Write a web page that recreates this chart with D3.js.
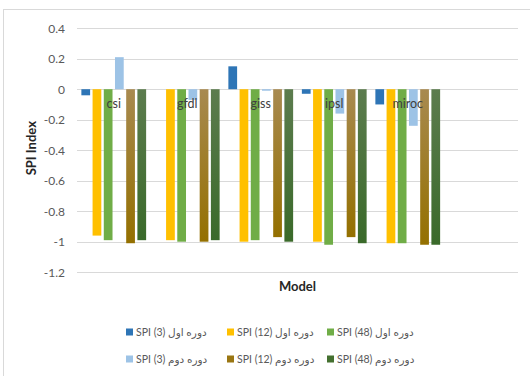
<!DOCTYPE html>
<html>
<head>
<meta charset="utf-8">
<script src="https://cdn.jsdelivr.net/npm/d3@7"></script>
<style>
  html, body { margin: 0; padding: 0; background: #fff; }
  svg { display: block; font-family: Lato, "DejaVu Sans", sans-serif; }
</style>
</head>
<body>
<svg id="chart" width="530" height="376"></svg>
<script>
// Climate models on the category axis (the last slot is an empty category)
const models = ["csi", "gfdl", "giss", "ipsl", "miroc", ""];

// Series labels (first period / second period, SPI time scales)
const seriesNames = [
  "SPI (3) دوره اول",
  "SPI (12) دوره اول",
  "SPI (48) دوره اول",
  "SPI (3) دوره دوم",
  "SPI (12) دوره دوم",
  "SPI (48) دوره دوم"
];

// SPI values per model for each series
const spi3First   = [-0.04,  0.00,  0.15, -0.03, -0.10];
const spi12First  = [-0.96, -0.99, -1.00, -1.00, -1.01];
const spi48First  = [-0.99, -1.00, -0.99, -1.02, -1.01];
const spi3Second  = [ 0.21, -0.07, -0.01, -0.16, -0.24];
const spi12Second = [-1.01, -1.00, -0.97, -0.97, -1.02];
const spi48Second = [-0.99, -0.99, -1.00, -1.01, -1.02];

const yTicks = [0.4, 0.2, 0, -0.2, -0.4, -0.6, -0.8, -1, -1.2];
const tickLabels = ["0.4", "0.2", "0", "-0.2", "-0.4", "-0.6", "-0.8", "-1", "-1.2"];

const seriesValues = [spi3First, spi12First, spi48First, spi3Second, spi12Second, spi48Second];
const colors = ["#2e75b6", "#ffc000", "#70ad47", "#9dc3e6", "url(#gBrown)", "url(#gDark)"];
const swatch = ["#2e75b6", "#ffc000", "#70ad47", "#9dc3e6", "#9a7612", "#44702f"];

const svg = d3.select("#chart");

// gradients for the two darker second-period series
const defs = svg.append("defs");
function grad(id, c1, c2) {
  const g = defs.append("linearGradient").attr("id", id)
    .attr("x1", 0).attr("y1", 0).attr("x2", 0).attr("y2", 1);
  g.append("stop").attr("offset", "0%").attr("stop-color", c1);
  g.append("stop").attr("offset", "100%").attr("stop-color", c2);
}
grad("gBrown", "#a88a50", "#947000");
grad("gDark", "#5c7c4e", "#3a6a2a");

// chart frame
svg.append("rect")
  .attr("x", 3.5).attr("y", 9.5).attr("width", 540).attr("height", 380)
  .attr("fill", "none").attr("stroke", "#d9d9d9").attr("stroke-width", 1);

const plot = { left: 77, right: 518, top: 28.2, bottom: 272.2 };

const y = d3.scaleLinear().domain([-1.2, 0.4]).range([plot.bottom, plot.top]);
const x0 = d3.scaleBand().domain(models).range([plot.left, plot.right]).padding(0);
const x1 = d3.scaleBand().domain(d3.range(seriesNames.length))
  .range([0, x0.bandwidth()]).paddingInner(0.22).paddingOuter(0.39);

// gridlines
svg.append("g").selectAll("line").data(yTicks).join("line")
  .attr("x1", plot.left).attr("x2", plot.right)
  .attr("y1", d => Math.round(y(d)) + 0.5).attr("y2", d => Math.round(y(d)) + 0.5)
  .attr("stroke", "#d9d9d9").attr("stroke-width", 1);

// y axis tick labels
const yAxis = d3.axisLeft(y).tickValues(yTicks)
  .tickFormat((d, i) => tickLabels[i]).tickSize(0).tickPadding(0);
const yg = svg.append("g").attr("transform", `translate(${plot.left - 12},0)`).call(yAxis);
yg.select(".domain").remove();
yg.selectAll("text").attr("fill", "#595959").attr("font-size", 12)
  .attr("font-family", "Lato, 'DejaVu Sans', sans-serif");

// bars
const groups = svg.append("g").selectAll("g")
  .data(models.slice(0, 5)).join("g")
  .attr("transform", d => `translate(${x0(d)},0)`);

groups.selectAll("rect")
  .data((m, mi) => seriesValues.map((vals, si) => ({ si, v: vals[mi] })))
  .join("rect")
  .attr("x", d => x1(d.si))
  .attr("width", x1.bandwidth())
  .attr("y", d => y(Math.max(0, d.v)))
  .attr("height", d => Math.abs(y(d.v) - y(0)))
  .attr("fill", d => colors[d.si]);

// category labels sit next to the zero line
const xAxis = d3.axisBottom(x0).tickSize(0).tickPadding(0)
  .tickValues(models.slice(0, 5));
const xg = svg.append("g").attr("transform", `translate(0,${y(0) + 10})`).call(xAxis);
xg.select(".domain").remove();
xg.selectAll("text").attr("fill", "#404040").attr("font-size", 12.5)
  .attr("font-family", "Lato, 'DejaVu Sans', sans-serif");

// axis titles
svg.append("text")
  .attr("transform", `translate(36,${(plot.top + plot.bottom) / 2 - 2}) rotate(-90)`)
  .attr("text-anchor", "middle").attr("font-weight", "bold").attr("font-size", 13)
  .attr("fill", "#262626").text("SPI Index");

svg.append("text")
  .attr("x", (plot.left + plot.right) / 2).attr("y", 291)
  .attr("text-anchor", "middle").attr("font-weight", "bold").attr("font-size", 13)
  .attr("fill", "#262626").text("Model");

// legend: two rows of three entries
const legendX = [126, 227, 327];
const legendY = [332, 359];
const leg = svg.append("g").selectAll("g").data(seriesNames).join("g")
  .attr("transform", (d, i) => `translate(${legendX[i % 3]},${legendY[Math.floor(i / 3)]})`);
leg.append("rect").attr("x", 0).attr("y", -3.5).attr("width", 7).attr("height", 7)
  .attr("fill", (d, i) => swatch[i]);
leg.append("text").attr("x", 10).attr("y", 0).attr("dy", "0.35em")
  .attr("font-size", 10.5).attr("fill", "#595959")
  .attr("direction", "ltr")
  .text(d => d);
</script>
</body>
</html>
